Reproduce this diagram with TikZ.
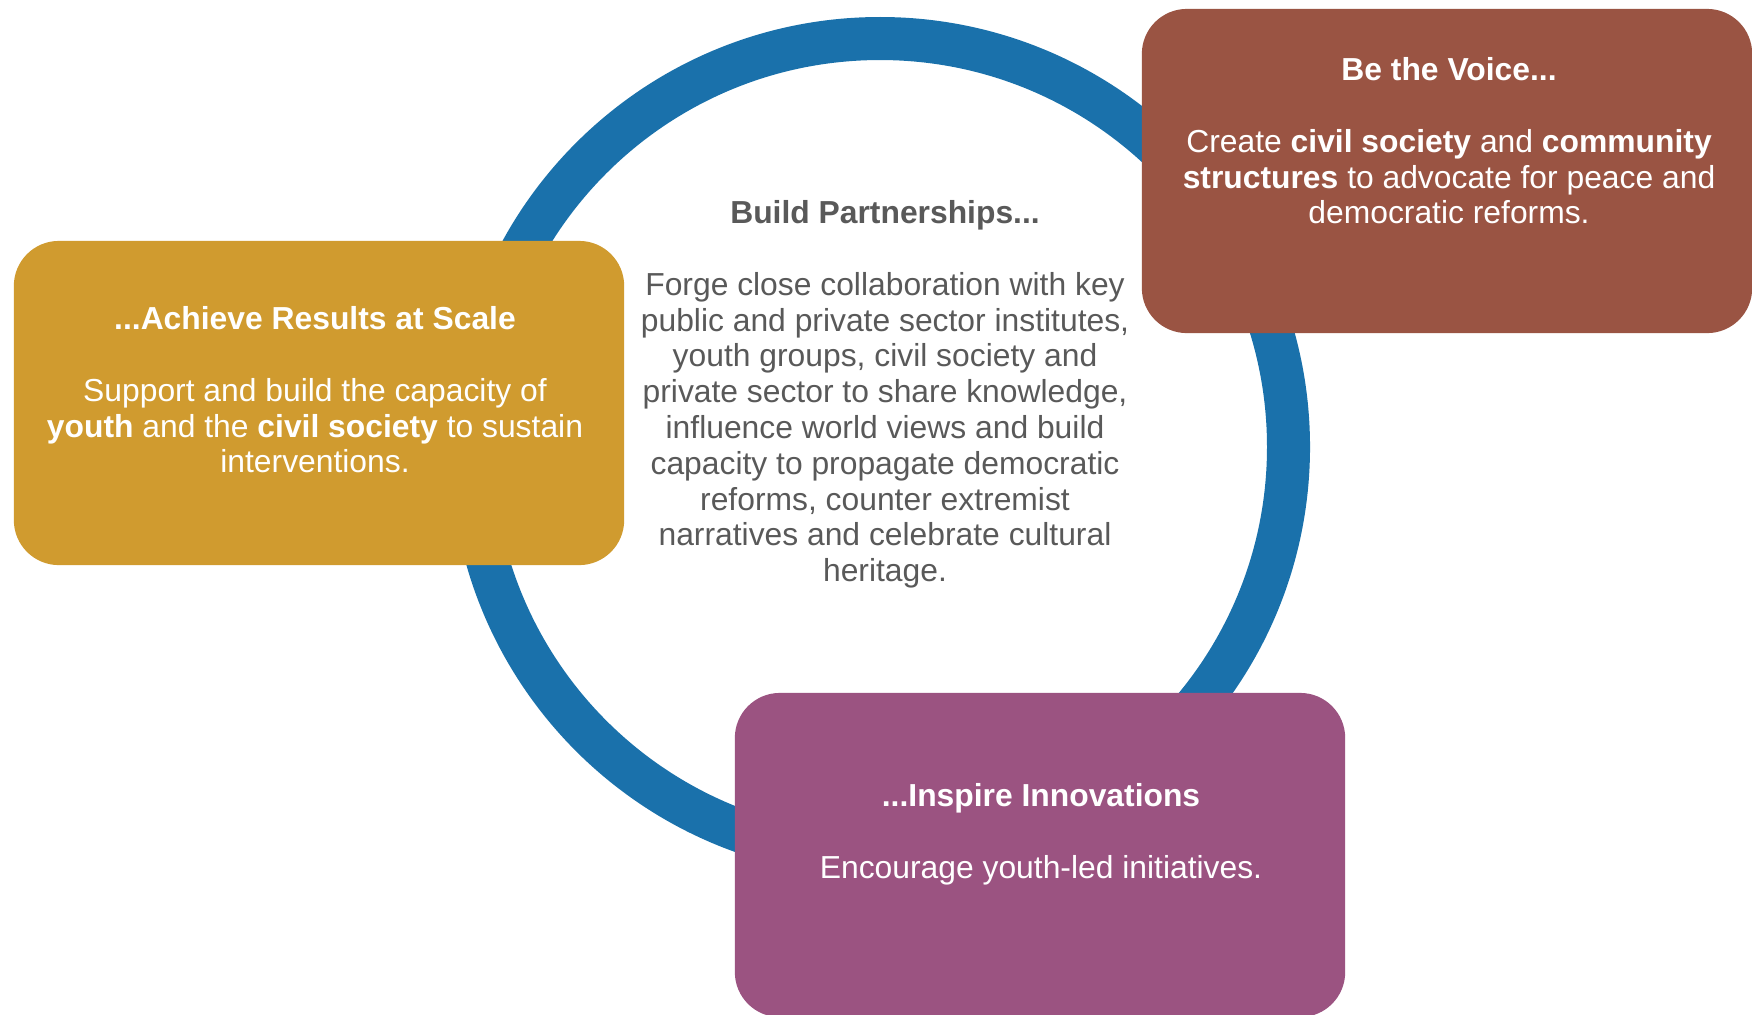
\documentclass[tikz,border=0pt]{standalone}
\usepackage{fontspec}
\setmainfont{Liberation Sans}
\usepackage{xcolor}
\usepackage{tikz}

\definecolor{ringblue}{HTML}{1A71AB}
\definecolor{scalegold}{HTML}{D09B2F}
\definecolor{voicebrown}{HTML}{9A5443}
\definecolor{innovpurple}{HTML}{9B5381}
\definecolor{hubgray}{HTML}{595959}

\begin{document}
\begin{tikzpicture}[x=0.01cm,y=-0.01cm,
 box/.style={rectangle,rounded corners=0.45cm,inner sep=0pt,
  minimum width=6.1cm,minimum height=3.24cm},
 boxtext/.style={text=white,align=center,inner sep=0pt,
  font=\fontsize{9.05pt}{10.17pt}\selectfont},
 hubtext/.style={boxtext,text=hubgray},
 ring/.style={draw=ringblue,line width=0.43cm}]
 \useasboundingbox (0,0) rectangle (1752,1014);

 % the ring
 \coordinate (hub) at (880,447);
 \draw[ring] (hub) circle[radius=408.5];

 % the three boxes
 \node[box,fill=scalegold] (scale) at (319,403) {};
 \node[box,fill=voicebrown] (voice) at (1447,171) {};
 \node[box,fill=innovpurple] (innov) at (1040,855) {};

 \node[hubtext] (hubtxt) at (885,394.5) {\textbf{Build Partnerships...}\\[10.17pt]
  Forge close collaboration with key\\
  public and private sector institutes,\\
  youth groups, civil society and\\
  private sector to share knowledge,\\
  influence world views and build\\
  capacity to propagate democratic\\
  reforms, counter extremist\\
  narratives and celebrate cultural\\
  heritage.};

 \node[boxtext] (scaletxt) at (315,390) {\textbf{...Achieve Results at Scale}\\[10.17pt]
  Support and build the capacity of\\
  \textbf{youth} and the \textbf{civil society} to sustain\\
  interventions.};

 \node[boxtext] (voicetxt) at (1449,141) {\textbf{Be the Voice...}\\[10.17pt]
  Create \textbf{civil society} and \textbf{community}\\
  \textbf{structures} to advocate for peace and\\
  democratic reforms.};

 \node[boxtext] (innovtxt) at (1041,834) {\textbf{...Inspire Innovations}\\[10.17pt]
  Encourage youth-led initiatives.};
\end{tikzpicture}
\end{document}
